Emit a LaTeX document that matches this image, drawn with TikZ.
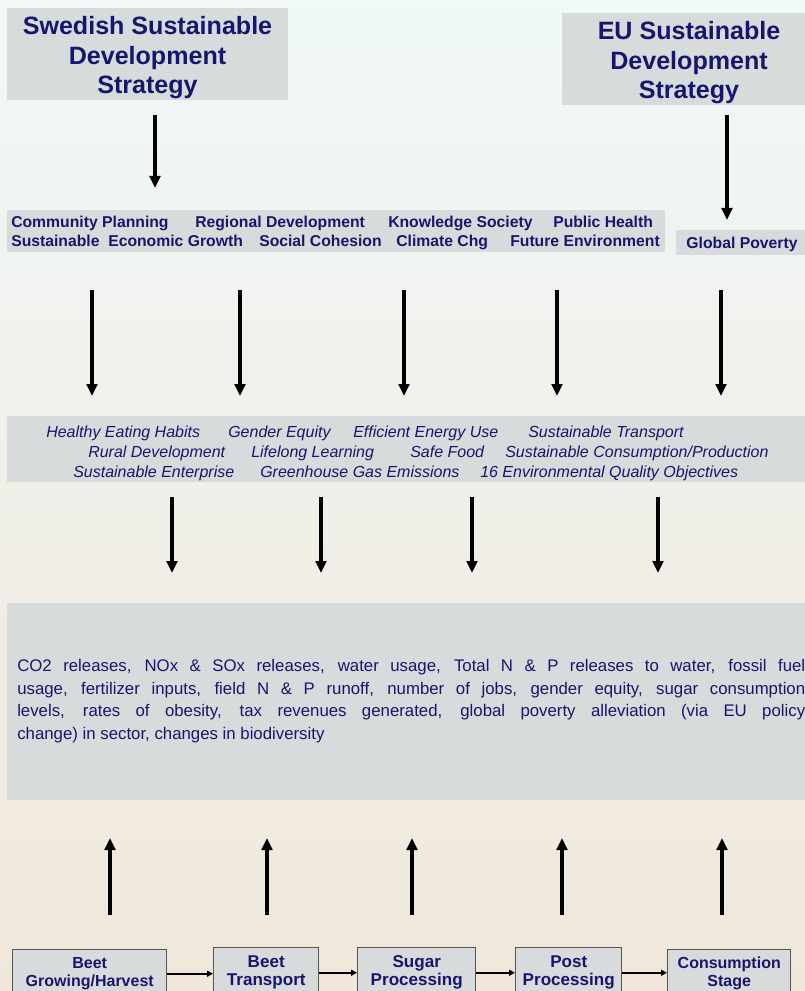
\documentclass[tikz,border=0pt]{standalone}
\usepackage{fontspec}
\setmainfont{Liberation Sans}
\usetikzlibrary{arrows.meta,calc}
\definecolor{navy}{RGB}{22,22,112}
\definecolor{boxgray}{RGB}{216,219,219}
\definecolor{bgtop}{RGB}{240,248,248}
\definecolor{bgmid}{RGB}{243,244,237}
\definecolor{bgbot}{RGB}{240,231,218}
\definecolor{edgegray}{RGB}{85,85,85}
\begin{document}
\begin{tikzpicture}[x=0.75pt,y=-0.75pt,
  panel/.style={fill=boxgray,draw=none,inner sep=0pt,anchor=north west},
  titletext/.style={text=navy,inner sep=0pt,anchor=base,font=\fontsize{18.8}{22}\selectfont\bfseries},
  stripbold/.style={text=navy,inner sep=0pt,anchor=base west,font=\fontsize{11.8}{14}\selectfont\bfseries},
  stripital/.style={text=navy,inner sep=0pt,anchor=base west,font=\fontsize{12}{15}\selectfont\itshape},
  stage/.style={fill=boxgray,draw=edgegray,line width=1.1pt,inner sep=0pt,anchor=north west,
    text=navy,align=center,font=\fontsize{12.8}{13.5}\selectfont\bfseries},
  stagesmall/.style={stage,font=\fontsize{12}{13.5}\selectfont\bfseries},
  varrow/.style={line width=2.3pt,-{Triangle[length=9pt,width=8pt]}},
  harrow/.style={line width=1.5pt,-{Triangle[length=4.5pt,width=4.5pt]}}]

\useasboundingbox (0,0) rectangle (805,991);
\clip (0,0) rectangle (805,991);
\shade[top color=bgtop, middle color=bgmid, bottom color=bgbot] (-2,-2) rectangle (807,993);

% top title boxes
\node[panel,minimum width=210.75pt,minimum height=69pt] (swe) at (7,8) {};
\node[titletext] (swe1) at (147.5,35) {Swedish Sustainable};
\node[titletext] (swe2) at (147.5,65) {Development};
\node[titletext] (swe3) at (147.5,94) {Strategy};

\node[panel,minimum width=182.25pt,minimum height=69pt] (eu) at (562,13) {};
\node[titletext] (eu1) at (689,40) {EU Sustainable};
\node[titletext] (eu2) at (689,70) {Development};
\node[titletext] (eu3) at (689,99) {Strategy};

% arrows from titles
\coordinate (a1s) at (155,115); \coordinate (a1e) at (155,188);
\coordinate (a2s) at (727,115); \coordinate (a2e) at (727,220);
\draw[varrow] (a1s) -- (a1e);
\draw[varrow] (a2s) -- (a2e);

% strip 1
\node[panel,minimum width=493.5pt,minimum height=31.5pt] (strip1) at (7,210) {};
\node[stripbold] (cp) at (11,227.5) {Community Planning};
\node[stripbold] (rd) at (195,227.5) {Regional Development};
\node[stripbold] (ks) at (388,227.5) {Knowledge Society};
\node[stripbold] (ph) at (553,227.5) {Public Health};
\node[stripbold] (su) at (11,246.5) {Sustainable};
\node[stripbold] (eg) at (108,246.5) {Economic Growth};
\node[stripbold] (sc) at (259,246.5) {Social Cohesion};
\node[stripbold] (cc) at (396,246.5) {Climate Chg};
\node[stripbold] (fe) at (510,246.5) {Future Environment};

\node[panel,minimum width=96.75pt,minimum height=18.75pt] (gp) at (676,230) {};
\node[stripbold,anchor=base] (gpt) at (742,248.5) {Global Poverty};

% arrows row 2
\foreach \i/\x in {1/92,2/240,3/404,4/557,5/721}{
  \coordinate (b\i s) at (\x,290); \coordinate (b\i e) at (\x,396);
  \draw[varrow] (b\i s) -- (b\i e);
}

% strip 2
\node[panel,minimum width=598.5pt,minimum height=49.5pt] (strip2) at (7,416) {};
\node[stripital] (he) at (46,437) {Healthy Eating Habits};
\node[stripital] (ge) at (228,437) {Gender Equity};
\node[stripital] (ee) at (353,437) {Efficient Energy Use};
\node[stripital] (st) at (528,437) {Sustainable Transport};
\node[stripital] (rdv) at (88,457) {Rural Development};
\node[stripital] (ll) at (251,457) {Lifelong Learning};
\node[stripital] (sf) at (410,457) {Safe Food};
\node[stripital] (scp) at (505,457) {Sustainable Consumption/Production};
\node[stripital] (se) at (73,477) {Sustainable Enterprise};
\node[stripital] (gg) at (260,477) {Greenhouse Gas Emissions};
\node[stripital] (eq) at (480,477) {16 Environmental Quality Objectives};

% arrows row 3
\foreach \i/\x in {1/172,2/321,3/472,4/658}{
  \coordinate (c\i s) at (\x,497); \coordinate (c\i e) at (\x,573);
  \draw[varrow] (c\i s) -- (c\i e);
}

% big box
\node[panel,minimum width=598.5pt,minimum height=147.75pt] (big) at (7,603) {};
\node[anchor=north west,inner sep=0pt,text width=591pt,align=justify,text=navy,
  font=\fontsize{12.6}{17}\selectfont] (bigt) at (17,659)
  {\noindent CO2 releases, NOx \& SOx releases, water usage, Total N \& P releases to water, fossil fuel\linebreak
   usage, fertilizer inputs, field N \& P runoff, number of jobs, gender equity, sugar consumption\linebreak
   levels, rates of obesity, tax revenues generated, global poverty alleviation (via EU policy\linebreak
   change) in sector, changes in biodiversity};

% up arrows
\foreach \i/\x in {1/110,2/267,3/412,4/562,5/722}{
  \coordinate (d\i s) at (\x,915); \coordinate (d\i e) at (\x,838);
  \draw[varrow] (d\i s) -- (d\i e);
}

% stage boxes
\node[stagesmall,minimum width=115.5pt,minimum height=36pt] (s1) at (12,949) {Beet\\Growing/Harvest};
\node[stage,minimum width=78.75pt,minimum height=37.5pt] (s2) at (213,947) {Beet\\Transport};
\node[stage,minimum width=88.5pt,minimum height=37.5pt] (s3) at (357,947) {Sugar\\Processing};
\node[stage,minimum width=79.5pt,minimum height=37.5pt] (s4) at (515,947) {Post\\Processing};
\node[stagesmall,minimum width=92.25pt,minimum height=36pt] (s5) at (667,949) {Consumption\\Stage};

\draw[harrow] (s1.east) -- (s1.east -| s2.west);
\draw[harrow] (s2.east) -- (s2.east -| s3.west);
\draw[harrow] (s3.east) -- (s3.east -| s4.west);
\draw[harrow] (s4.east) -- (s4.east -| s5.west);
\end{tikzpicture}
\end{document}
